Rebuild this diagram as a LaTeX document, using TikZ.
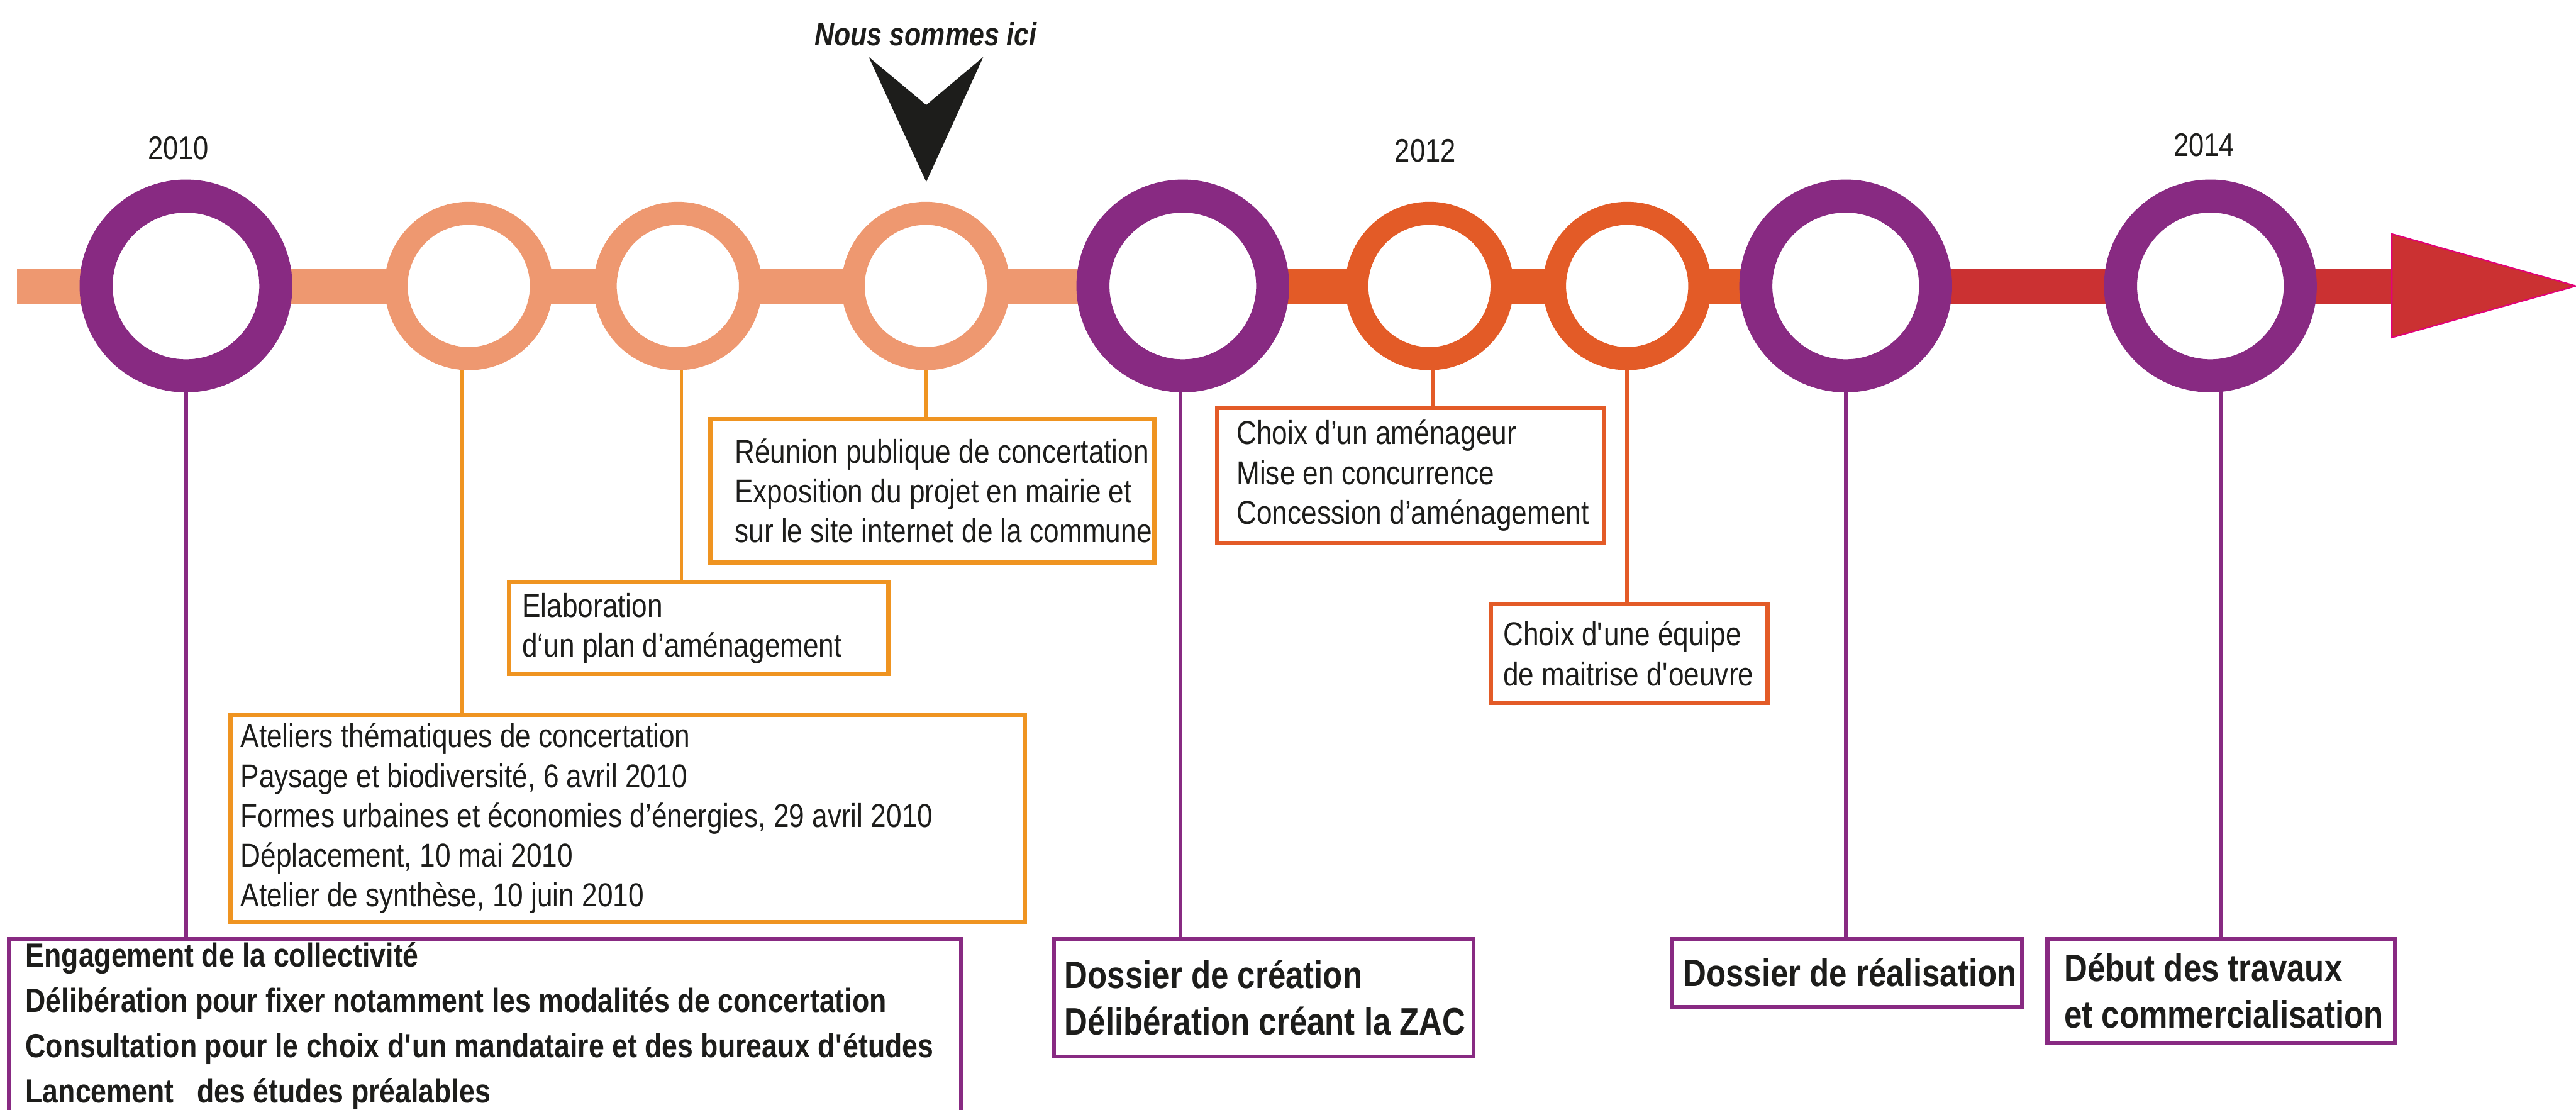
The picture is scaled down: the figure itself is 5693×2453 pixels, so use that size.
\documentclass[tikz,border=0pt]{standalone}
\usepackage{fontspec}
\setmainfont{Liberation Sans}[FakeStretch=0.84]
\usetikzlibrary{calc}
\pgfdeclarelayer{bg}
\pgfsetlayers{bg,main}
\definecolor{cPurple}{RGB}{136,42,130}
\definecolor{cSalmon}{RGB}{238,152,112}
\definecolor{cOrange}{RGB}{239,148,33}
\definecolor{cDark}{RGB}{227,91,39}
\definecolor{cRed}{RGB}{203,49,50}
\definecolor{cMag}{RGB}{226,0,122}
\definecolor{cBlack}{RGB}{29,29,27}
\newcommand{\sq}{\textquotesingle}
\begin{document}
\begin{tikzpicture}[x=0.01cm,y=-0.01cm,
  ringP/.style={circle,draw=cPurple,fill=white,line width=0.73cm,minimum size=3.97cm,inner sep=0pt},
  ringS/.style={circle,draw=#1,fill=white,line width=0.51cm,minimum size=3.21cm,inner sep=0pt},
  frame/.style={draw=#1,fill=white,line width=0.09cm,inner sep=0pt},
  conn/.style={draw=#1,line width=0.08cm},
  bar/.style={draw=#1,line width=0.78cm},
  txt/.style={anchor=west,align=left,inner sep=0pt,text=cBlack,font=\fontsize{20.8}{25}\selectfont},
  btxt/.style={anchor=west,align=left,inner sep=0pt,text=cBlack,font=\bfseries\fontsize{24}{29.3}\selectfont},
  stxt/.style={anchor=west,align=left,inner sep=0pt,text=cBlack,font=\bfseries\fontsize{21}{28.5}\selectfont},
  year/.style={inner sep=0pt,text=cBlack,font=\fontsize{20.5}{22}\selectfont}]
\useasboundingbox (0,0) rectangle (5693,2453);

% rings
\node[ringP] (c1) at (411,632) {};
\node[ringS=cSalmon] (c2) at (1036,632) {};
\node[ringS=cSalmon] (c3) at (1498,632) {};
\node[ringS=cSalmon] (c4) at (2046,632) {};
\node[ringP] (c5) at (2614,632) {};
\node[ringS=cDark] (c6) at (3159,632) {};
\node[ringS=cDark] (c7) at (3596,632) {};
\node[ringP] (c8) at (4079,632) {};
\node[ringP] (c9) at (4885,632) {};

% arrow head
\coordinate (barL) at (38,632);
\coordinate (arrB) at (5286,632);
\filldraw[fill=cRed,draw=cMag,line width=0.03cm] (5286,517) -- (5693,632) -- (5286,746) -- cycle;

% marker
\node[inner sep=0pt,text=cBlack,font=\bfseries\itshape\fontsize{20.2}{24}\selectfont] (nous) at (2046,75) {Nous sommes ici};
\fill[cBlack] (1920,126) -- (2047,232) -- (2173,126) -- (2047,402) -- cycle;

% years
\node[year] (y2010) at (394,327) {2010};
\node[year] (y2012) at (3150,333) {2012};
\node[year] (y2014) at (4871,320) {2014};

% boxes
\node[frame=cPurple,minimum width=21.04cm,minimum height=3.85cm] (b1) at (1072,2267.5) {};
\node[stxt] (t1) at ($(b1.west)+(41,0)$) {Engagement de la collectivité\\Délibération pour fixer notamment les modalités de concertation\\Consultation pour le choix d\sq un mandataire et des bureaux d\sq études\\Lancement\ \ \ des études préalables};

\node[frame=cOrange,minimum width=17.54cm,minimum height=4.58cm] (bAt) at (1387,1809) {};
\node[txt] (tAt) at ($(bAt.west)+(26,0)$) {Ateliers thématiques de concertation\\Paysage et biodiversité, 6 avril 2010\\Formes urbaines et économies d’énergies, 29 avril 2010\\Déplacement, 10 mai 2010\\Atelier de synthèse, 10 juin 2010};

\node[frame=cOrange,minimum width=8.38cm,minimum height=2.03cm] (bEl) at (1544,1388.5) {};
\node[txt] (tEl) at ($(bEl.west)+(33,0)$) {Elaboration\\d‘un plan d’aménagement};

\node[frame=cOrange,minimum width=9.81cm,minimum height=3.17cm] (bRe) at (2060.5,1084.5) {};
\node[txt] (tRe) at ($(bRe.west)+(58,0)$) {Réunion publique de concertation\\Exposition du projet en mairie et\\sur le site internet de la commune};

\node[frame=cDark,minimum width=8.54cm,minimum height=2.98cm] (bCh) at (3117,1051) {};
\node[txt] (tCh) at ($(bCh.west)+(47,0)$) {Choix d’un aménageur\\Mise en concurrence\\Concession d’aménagement};

\node[frame=cDark,minimum width=6.11cm,minimum height=2.19cm] (bEq) at (3600.5,1444.5) {};
\node[txt] (tEq) at ($(bEq.west)+(31,0)$) {Choix d\sq une équipe\\de maitrise d\sq oeuvre};

\node[frame=cPurple,minimum width=9.27cm,minimum height=2.59cm] (bDc) at (2792.5,2205.5) {};
\node[btxt] (tDc) at ($(bDc.west)+(28,0)$) {Dossier de création\\Délibération créant la ZAC};

\node[frame=cPurple,minimum width=7.72cm,minimum height=1.50cm] (bDr) at (4082,2150) {};
\node[btxt] (tDr) at ($(bDr.west)+(28,0)$) {Dossier de réalisation};

\node[frame=cPurple,minimum width=7.68cm,minimum height=2.30cm] (bDt) at (4909,2190) {};
\node[btxt] (tDt) at ($(bDt.west)+(41,0)$) {Début des travaux\\et commercialisation};

\begin{pgfonlayer}{bg}
\draw[bar=cSalmon] (barL) -- (c5.center);
\draw[bar=cDark] (c5.center) -- (c8.center);
\draw[bar=cRed] (c8.center) -- (arrB);
\draw[conn=cPurple] (c1) -- (c1 |- b1.north);
\draw[conn=cOrange] ($(c2)+(-15,0)$) -- ($(c2 |- bAt.north)+(-15,0)$);
\draw[conn=cOrange] ($(c3)+(8,0)$) -- ($(c3 |- bEl.north)+(8,0)$);
\draw[conn=cOrange] (c4) -- (c4 |- bRe.north);
\draw[conn=cPurple] ($(c5)+(-5,0)$) -- ($(c5 |- bDc.north)+(-5,0)$);
\draw[conn=cDark] ($(c6)+(7,0)$) -- ($(c6 |- bCh.north)+(7,0)$);
\draw[conn=cDark] (c7) -- (c7 |- bEq.north);
\draw[conn=cPurple] (c8) -- (c8 |- bDr.north);
\draw[conn=cPurple] ($(c9)+(23,0)$) -- ($(c9 |- bDt.north)+(23,0)$);
\end{pgfonlayer}
\end{tikzpicture}
\end{document}
